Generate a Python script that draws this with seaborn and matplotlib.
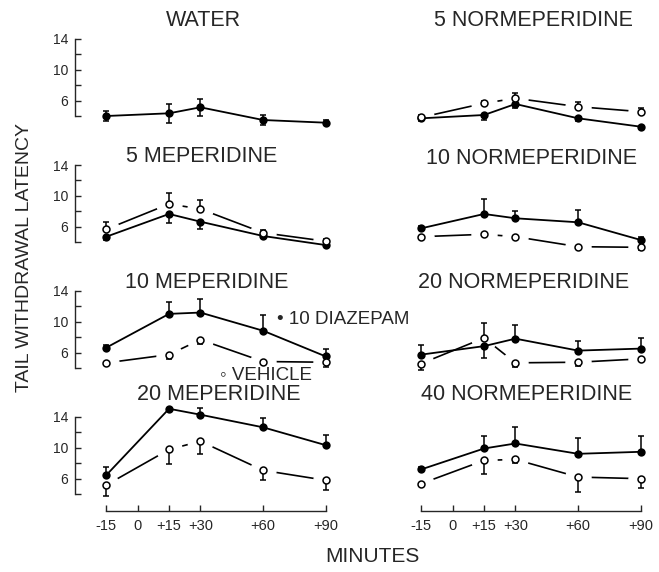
#!/usr/bin/env python3

import numpy as np
import pandas as pd
import seaborn as sns
from matplotlib import pyplot as plt

# sampling times (minutes relative to injection)
MINUTES = [-15, 15, 30, 60, 90]
TICK_MINUTES = [-15, 0, 15, 30, 60, 90]
TICK_LABELS = ["-15", "0", "+15", "+30", "+60", "+90"]
Y_TICKS = [6, 10, 14]
Y_MINOR = [4, 8, 12]

# filled = 10 diazepam pretreatment, open = vehicle
# error values: positive -> bar drawn upward, negative -> downward
water_drug = [4.0, 4.35, 5.13, 3.48, 3.13]
water_drug_err = [0.6, 1.2, 1.1, 0.7, 0.3]

mep5_drug = [4.69, 7.64, 6.64, 4.78, 3.6]
mep5_drug_err = [-0.4, -1.2, -0.9, -0.3, 0.3]
mep5_veh = [5.65, 8.94, 8.29, 5.2, 4.1]
mep5_veh_err = [1.0, 1.4, 1.1, 0.3, 0.3]

mep10_drug = [6.65, 11.03, 11.2, 8.84, 5.5]
mep10_drug_err = [0.3, 1.6, 1.7, 2.0, 0.95]
mep10_veh = [4.67, 5.74, 7.68, 4.84, 4.75]
mep10_veh_err = [-0.3, -0.6, -0.6, -0.3, -0.6]

mep20_drug = [6.46, 15.07, 14.3, 12.66, 10.34]
mep20_drug_err = [1.0, 0.0, 0.85, 1.2, 1.3]
mep20_veh = [5.17, 9.78, 10.85, 7.07, 5.78]
mep20_veh_err = [-1.4, -1.85, -1.6, -1.2, -1.3]

nor5_drug = [3.7, 4.13, 5.56, 3.7, 2.61]
nor5_drug_err = [-0.3, -0.6, -0.5, -0.3, -0.3]
nor5_veh = [3.83, 5.65, 6.3, 5.21, 4.56]
nor5_veh_err = [0.3, 0.3, 0.65, 0.6, 0.5]

nor10_drug = [5.78, 7.64, 7.08, 6.56, 4.26]
nor10_drug_err = [0.3, 2.0, 0.9, 1.6, 0.4]
nor10_veh = [4.69, 5.0, 4.69, 3.39, 3.31]
nor10_veh_err = [-0.3, -0.2, -0.2, -0.2, -0.3]

nor20_drug = [5.74, 6.84, 7.81, 6.26, 6.52]
nor20_drug_err = [1.2, -1.6, 1.8, 1.2, 1.4]
nor20_veh = [4.58, 7.9, 4.67, 4.75, 5.19]
nor20_veh_err = [-0.9, 1.9, -0.6, -0.5, -0.3]

nor40_drug = [7.2, 9.91, 10.56, 9.22, 9.48]
nor40_drug_err = [0.3, 1.6, 2.15, 2.1, 2.0]
nor40_veh = [5.35, 8.36, 8.49, 6.2, 5.99]
nor40_veh_err = [-0.3, -1.7, -0.4, -2.0, -1.2]

# layout, in pixels of the 659x572 picture
W, H = 659, 572
ROW_Y14 = [39, 165, 291, 417]          # pixel row of the value 14
COL_LEFT = [75, 390]
PX_PER_UNIT = 7.7
PX_PER_MIN = 2.09
Y_LO, Y_HI = 2.2, 15.8
X_LO, X_HI = -30, 95
TITLE_POS = [[(203, 20), (533, 20)], [(202, 157), (532, 158)],
             [(207, 282), (524, 283)], [(219, 395), (527, 395)]]


def px_axes(fig, left, top, width, height):
    return fig.add_axes([left / W, 1 - (top + height) / H, width / W, height / H])


def draw_errors(ax, y, err, both=False):
    e = np.asarray(err, dtype=float)
    if both:
        lower, upper = np.abs(e), np.abs(e)
    else:
        lower = np.where(e < 0, -e, 0)
        upper = np.where(e > 0, e, 0)
    ax.errorbar(MINUTES, y, yerr=[lower, upper], fmt="none", ecolor="black",
                elinewidth=1.1, capsize=2.3, capthick=1.1, zorder=3, clip_on=False)


def draw_panel(ax, drug, drug_err, veh=None, veh_err=None, both=False):
    d = pd.DataFrame({"Minutes": MINUTES, "Latency": drug})
    sns.lineplot(d, x="Minutes", y="Latency", ax=ax, color="black", lw=1.3,
                 marker="o", markersize=6, markeredgewidth=0, zorder=4, clip_on=False)
    draw_errors(ax, drug, drug_err, both)
    if veh is not None:
        v = pd.DataFrame({"Minutes": MINUTES, "Latency": veh})
        sns.lineplot(v, x="Minutes", y="Latency", ax=ax, color="black", lw=1.2,
                     zorder=1, clip_on=False)
        # white halo leaves the gaps of the vehicle line around its markers
        ax.plot(v["Minutes"], v["Latency"], "o", color="white", ms=18, zorder=2, clip_on=False)
        draw_errors(ax, veh, veh_err)
        ax.plot(v["Minutes"], v["Latency"], "o", mfc="white", mec="black", ms=5,
                mew=1.1, zorder=6, clip_on=False)
    ax.set_xlim(X_LO, X_HI)
    ax.set_ylim(Y_LO, Y_HI)
    ax.set_xlabel("")
    ax.set_ylabel("")


def main():
    sns.set_style("white")
    plt.rcParams["font.family"] = ["Liberation Sans", "DejaVu Sans"]

    fig = plt.figure(figsize=(W / 100, H / 100), dpi=100)

    panels = [
        [("WATER", water_drug, water_drug_err, None, None),
         ("5 NORMEPERIDINE", nor5_drug, nor5_drug_err, nor5_veh, nor5_veh_err)],
        [("5 MEPERIDINE", mep5_drug, mep5_drug_err, mep5_veh, mep5_veh_err),
         ("10 NORMEPERIDINE", nor10_drug, nor10_drug_err, nor10_veh, nor10_veh_err)],
        [("10 MEPERIDINE", mep10_drug, mep10_drug_err, mep10_veh, mep10_veh_err),
         ("20 NORMEPERIDINE", nor20_drug, nor20_drug_err, nor20_veh, nor20_veh_err)],
        [("20 MEPERIDINE", mep20_drug, mep20_drug_err, mep20_veh, mep20_veh_err),
         ("40 NORMEPERIDINE", nor40_drug, nor40_drug_err, nor40_veh, nor40_veh_err)],
    ]

    ax_w = (X_HI - X_LO) * PX_PER_MIN
    ax_h = (Y_HI - Y_LO) * PX_PER_UNIT
    for r, row in enumerate(panels):
        top = ROW_Y14[r] - (Y_HI - 14) * PX_PER_UNIT
        for c, (title, drug, drug_err, veh, veh_err) in enumerate(row):
            ax = px_axes(fig, COL_LEFT[c], top, ax_w, ax_h)
            draw_panel(ax, drug, drug_err, veh, veh_err, both=(title == "WATER"))
            for s in ax.spines.values():
                s.set_visible(False)
            ax.patch.set_alpha(0)

            if c == 0:
                sp = ax.spines["left"]
                sp.set_visible(True)
                sp.set_linewidth(1.0)
                sp.set_bounds(4, 14)
                ax.set_yticks(Y_TICKS)
                ax.set_yticks(Y_MINOR, minor=True)
                ax.tick_params(axis="y", which="both", direction="in", length=4,
                               width=1.0, left=True, pad=5, labelsize=10)
            else:
                ax.set_yticks([])

            if r == len(panels) - 1:
                sp = ax.spines["bottom"]
                sp.set_visible(True)
                sp.set_linewidth(1.0)
                sp.set_position(("outward", 2))
                sp.set_bounds(-15, 90)
                ax.set_xticks(TICK_MINUTES, TICK_LABELS)
                ax.tick_params(axis="x", direction="in", length=4, width=1.0,
                               bottom=True, pad=6, labelsize=10.5)
            else:
                ax.set_xticks([])

            tx, ty = TITLE_POS[r][c]
            fig.text(tx / W, 1 - ty / H, title, ha="center", va="center", fontsize=15.5)

    # key written beside the 10 meperidine panel
    fig.text(277 / W, 1 - 319 / H, "\u2022 10 DIAZEPAM", ha="left", va="center", fontsize=13.5)
    fig.text(220 / W, 1 - 376 / H, "\u25e6 VEHICLE", ha="left", va="center", fontsize=13.5)

    fig.text(25 / W, 1 - 258 / H, "TAIL WITHDRAWAL LATENCY", rotation=90,
             ha="center", va="center", fontsize=14)
    fig.text(372 / W, 1 - 557 / H, "MINUTES", ha="center", va="center", fontsize=15)

    fig.savefig("out.png", dpi=100)
    plt.close(fig)


if __name__ == '__main__':
    main()
